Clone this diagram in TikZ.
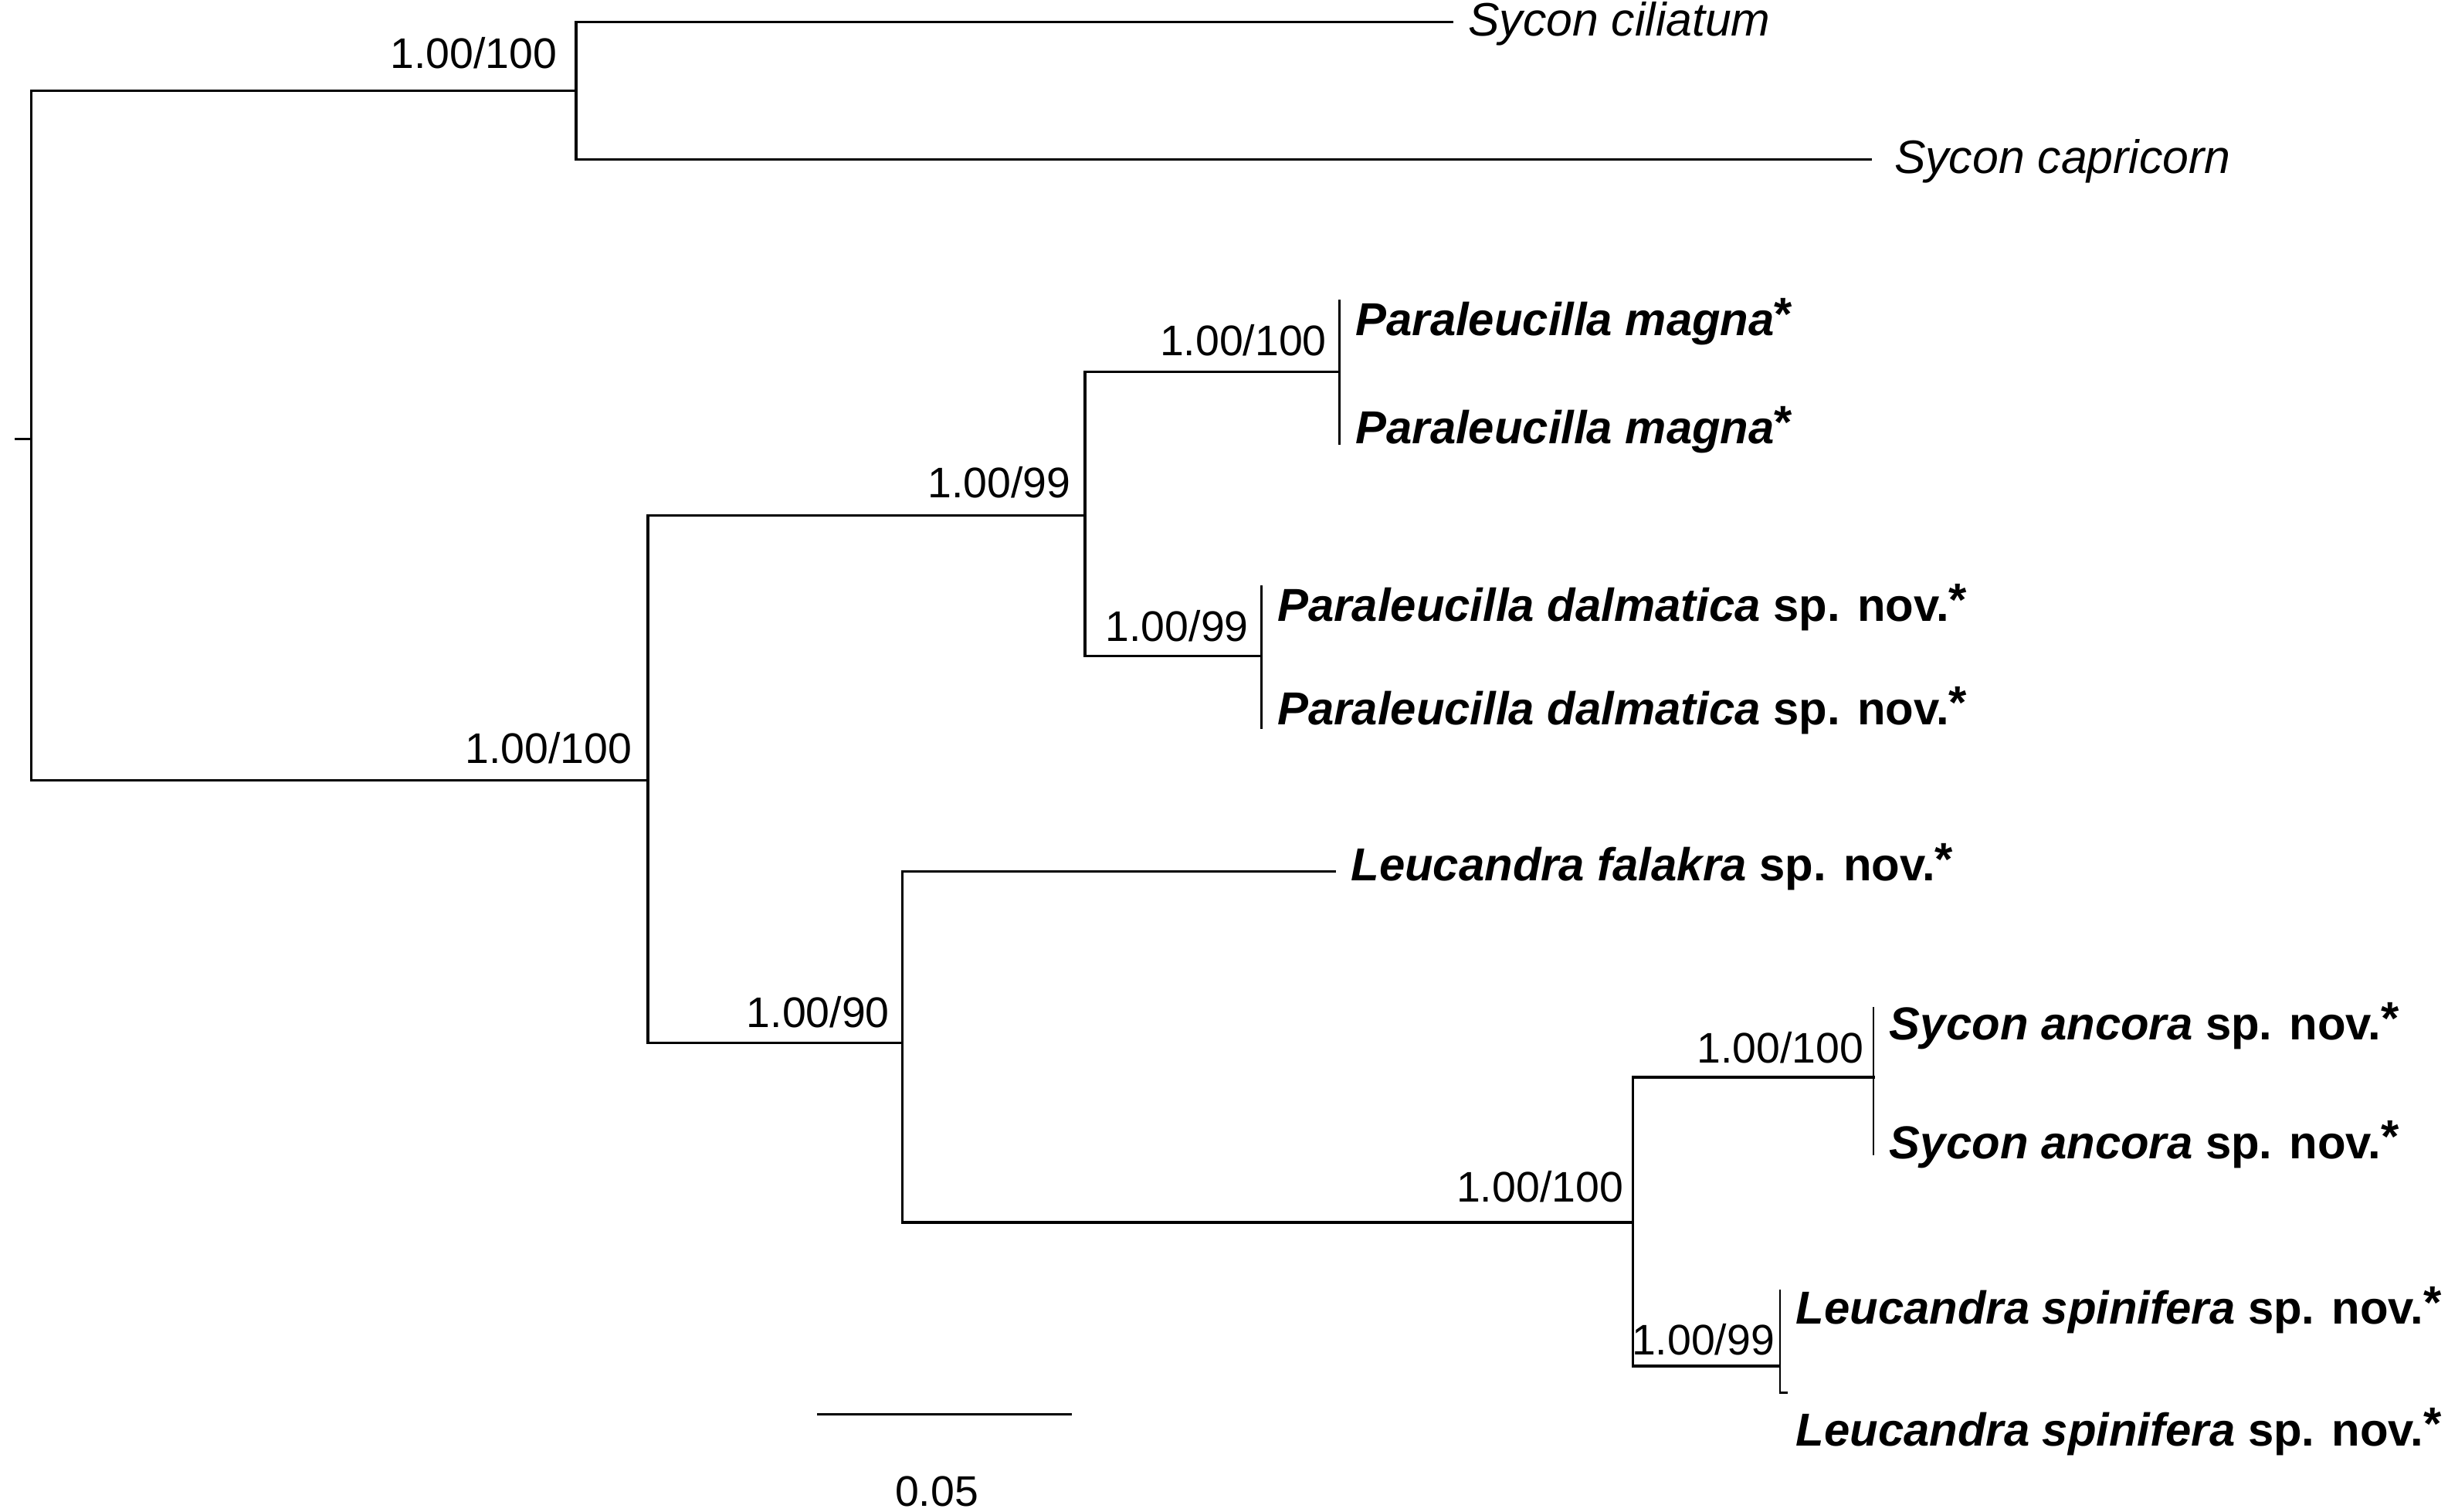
\documentclass[tikz,border=0pt]{standalone}
\usepackage{fontspec}
\setmainfont{Liberation Sans}
\newcommand{\myast}{\raisebox{0.12em}{\upshape\bfseries *}}
\begin{document}
\begin{tikzpicture}[x=0.02cm,y=-0.02cm,
  branch/.style={line width=0.9pt, line cap=rect},
  tipline/.style={line width=0.7pt},
  leaf/.style={anchor=base west, inner sep=0pt, font=\fontsize{16.85}{20}\selectfont\bfseries},
  outleaf/.style={anchor=base west, inner sep=0pt, font=\fontsize{17.1}{20}\selectfont\itshape},
  supp/.style={anchor=base east, inner sep=0pt, font=\fontsize{15.6}{18}\selectfont}]
\useasboundingbox (0,0) rectangle (1568,968);
% internal nodes
\coordinate (rt) at (10,281);
\coordinate (r) at (20,281);
\coordinate (A) at (369,58);
\coordinate (B) at (415,500);
\coordinate (C) at (695,330);
\coordinate (D) at (858,238);
\coordinate (E) at (808,420);
\coordinate (F) at (578,668);
\coordinate (G) at (1046,783);
\coordinate (H) at (1200,690);
\coordinate (I) at (1140,875);
% tips
\coordinate (tcil) at (930,14);
\coordinate (tcap) at (1198,102);
\coordinate (d1) at (858,192);
\coordinate (d2) at (858,285);
\coordinate (e1) at (808,375);
\coordinate (e2) at (808,467);
\coordinate (tfal) at (855,558);
\coordinate (h1) at (1200,645);
\coordinate (h2) at (1200,740);
\coordinate (i1) at (1140,826);
\coordinate (i2) at (1140,892);
\coordinate (i3) at (1145,892);
% branches
\draw[branch] (rt) -- (r);
\draw[branch] (A) -| (r);
\draw[branch] (B) -| (r);
\draw[branch] (tcil) -| (A);
\draw[branch] (tcap) -| (A);
\draw[branch] (C) -| (B);
\draw[branch] (F) -| (B);
\draw[branch] (D) -| (C);
\draw[branch] (E) -| (C);
\draw[tipline] (d1) -- (d2);
\draw[tipline] (e1) -- (e2);
\draw[branch] (tfal) -| (F);
\draw[branch] (G) -| (F);
\draw[branch] (H) -| (G);
\draw[branch] (I) -| (G);
\draw[tipline] (h1) -- (h2);
\draw[tipline] (i1) -- (i2) -- (i3);
% support values
\node[supp] (sA) at (357,44) {1.00/100};
\node[supp] (sB) at (405,489) {1.00/100};
\node[supp] (sC) at (686,319) {1.00/99};
\node[supp] (sD) at (850,228) {1.00/100};
\node[supp] (sE) at (800,411) {1.00/99};
\node[supp] (sF) at (570,658) {1.00/90};
\node[supp] (sG) at (1040,770) {1.00/100};
\node[supp] (sH) at (1194,681) {1.00/100};
\node[supp] (sI) at (1137,868) {1.00/99};
% leaf labels
\node[outleaf] (L1) at (940,23) {Sycon ciliatum};
\node[outleaf] (L2) at (1213,111) {Sycon capricorn};
\node[leaf] (L3) at (868,215) {\itshape Paraleucilla magna\myast};
\node[leaf] (L4) at (868,284) {\itshape Paraleucilla magna\myast};
\node[leaf] (L5) at (818,398) {\textit{Paraleucilla dalmatica} sp. nov.\myast};
\node[leaf] (L6) at (818,464) {\textit{Paraleucilla dalmatica} sp. nov.\myast};
\node[leaf] (L7) at (865,564) {\textit{Leucandra falakra} sp. nov.\myast};
\node[leaf] (L8) at (1210,666) {\textit{Sycon ancora} sp. nov.\myast};
\node[leaf] (L9) at (1210,742) {\textit{Sycon ancora} sp. nov.\myast};
\node[leaf] (L10) at (1150,848) {\textit{Leucandra spinifera} sp. nov.\myast};
\node[leaf] (L11) at (1150,926) {\textit{Leucandra spinifera} sp. nov.\myast};
% scale bar
\coordinate (sb1) at (524,906);
\coordinate (sb2) at (686,906);
\draw[branch] (sb1) -- (sb2);
\node[supp, anchor=base] (sbl) at (600,965) {0.05};
\end{tikzpicture}
\end{document}
